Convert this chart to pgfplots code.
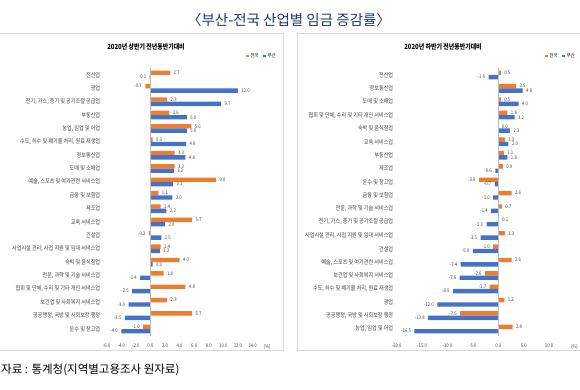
\documentclass[border=0pt]{standalone}
\usepackage{pgfplots}
\pgfplotsset{compat=1.18}
\usepackage{fontspec}
\setmainfont{Noto Sans CJK KR}
\newfontfamily\cond{Noto Sans CJK KR}[FakeStretch=0.85]
\definecolor{nat}{HTML}{ED7D31}
\definecolor{bus}{HTML}{4472C4}
\definecolor{ttl}{HTML}{203864}
\definecolor{txt}{HTML}{404040}
\definecolor{frame}{HTML}{D9D9D9}
\definecolor{zero}{HTML}{BFBFBF}

\pgfplotstableread{
y nat bus
19 2.7 -0.1
18 -0.7 12.0
17 2.3 9.7
16 2.6 5.0
15 5.6 5.0
14 0.3 4.9
13 3.3 4.8
12 3.3 3.2
11 9.0 3.1
10 1.1 3.0
9 1.4 2.2
8 5.7 2.0
7 -0.2 1.5
6 1.4 1.3
5 4.0 0.3
4 1.8 -1.4
3 4.8 -2.5
2 2.3 -3.0
1 5.7 -3.5
0 -1.0 -4.0
}\firsthalf

\pgfplotstableread{
y nat bus
19 0.5 -1.9
18 3.5 4.8
17 0.5 4.0
16 1.8 3.2
15 0.0 2.3
14 1.3 2.0
13 1.1 1.8
12 0.9 -0.6
11 -3.8 -0.7
10 2.6 -1.0
9 0.7 -1.4
8 0.1 -2.3
7 1.3 -3.5
6 -1.0 -5.0
5 2.6 -7.4
4 -2.6 -7.6
3 -1.7 -8.9
2 1.2 -12.0
1 -7.5 -13.8
0 2.8 -16.5
}\secondhalf

\pgfplotsset{
 sqlegend/.style={legend image code/.code={\fill[##1] (0pt,-1.3pt) rectangle (2.6pt,1.3pt);}},
 mybar/.style={
  scale only axis,
  xbar, bar width=4.4pt,
  ymin=-0.5, ymax=19.5,
  height=267.4pt,
  ytick={0,...,19},
  axis line style={draw=none},
  major tick length=0pt,
  xticklabel style={font=\cond\fontsize{5}{6}\selectfont, text=txt, yshift=-5pt},
  yticklabel style={font=\cond\fontsize{6}{7}\selectfont, text=txt},
  nodes near coords,
  nodes near coords style={font=\cond\fontsize{5}{6}\selectfont, text=txt,
     /pgf/number format/.cd, fixed, zerofill, precision=1, assume math mode=true},
  clip=false,
  legend style={draw=none, fill=none, font=\cond\fontsize{5}{6}\selectfont,
     legend columns=2, /tikz/every even column/.append style={column sep=3pt},
     inner sep=0pt},
 },
}

\begin{document}
\begin{tikzpicture}
\path[use as bounding box] (0pt,0pt) rectangle (580pt,390pt);
% panels
\draw[frame, line width=0.8pt] (-2pt,40pt) rectangle (283pt,357pt);
\draw[frame, line width=0.8pt] (297pt,40pt) rectangle (583pt,357pt);
% main title
\node[text=ttl, font=\fontsize{14.5}{16}\selectfont, inner sep=0pt] at (289pt,370pt) {〈부산-전국 산업별 임금 증감률〉};
% footnote
\node[anchor=west, inner sep=0pt, font=\fontsize{11.5}{13}\selectfont] at (1pt,20pt) {자료 : 통계청(지역별고용조사 원자료)};
% subtitles
\node[font=\cond\bfseries\fontsize{7}{8}\selectfont, text=black] at (146pt,343pt) {2020년 상반기 전년동반기대비};
\node[font=\cond\bfseries\fontsize{7}{8}\selectfont, text=black] at (443pt,343pt) {2020년 하반기 전년동반기대비};

\begin{axis}[mybar, at={(106.7pt,54.3pt)}, anchor=south west, width=160.4pt,
  xmin=-6, xmax=16, xtick={-6,-4,...,16},
  xticklabels={-6.0,-4.0,-2.0,0.0,2.0,4.0,6.0,8.0,10.0,12.0,14.0,(\%)},
  yticklabel style={xshift=-3pt},
  yticklabels={{운수 및 창고업},{공공행정, 국방 및 사회보장 행정},{보건업 및 사회복지 서비스업},{협회 및 단체, 수리 및 기타 개인 서비스업},{전문, 과학 및 기술 서비스업},{숙박 및 음식점업},{사업시설 관리, 사업 지원 및 임대 서비스업},{건설업},{교육 서비스업},{제조업},{금융 및 보험업},{예술, 스포츠 및 여가관련 서비스업},{도매 및 소매업},{정보통신업},{수도, 하수 및 폐기물 처리, 원료 재생업},{농업, 임업 및 어업},{부동산업},{전기, 가스, 증기 및 공기조절 공급업},{광업},{전산업}},
  legend style={at={(1.068,1.046)}, anchor=east}]
\addplot[fill=nat, draw=none, bar shift=2.2pt, sqlegend] table[x=nat, y=y] {\firsthalf};
\addplot[fill=bus, draw=none, bar shift=-2.2pt, sqlegend] table[x=bus, y=y] {\firsthalf};
\legend{전국, 부산}
\draw[zero, line width=0.6pt] (axis cs:0,-0.5) -- (axis cs:0,19.5);
\end{axis}

\begin{axis}[mybar, at={(396.7pt,54.3pt)}, anchor=south west, width=177.8pt,
  xmin=-20, xmax=15, xtick={-20,-15,...,15},
  xticklabels={-20.0,-15.0,-10.0,-5.0,0.0,5.0,10.0,(\%)},
  yticklabels={{농업, 임업 및 어업},{공공행정, 국방 및 사회보장 행정},{광업},{수도, 하수 및 폐기물 처리, 원료 재생업},{보건업 및 사회복지 서비스업},{예술, 스포츠 및 여가관련 서비스업},{건설업},{사업시설 관리, 사업 지원 및 임대 서비스업},{전기, 가스, 증기 및 공기조절 공급업},{전문, 과학 및 기술 서비스업},{금융 및 보험업},{운수 및 창고업},{제조업},{부동산업},{교육 서비스업},{숙박 및 음식점업},{협회 및 단체, 수리 및 기타 개인 서비스업},{도매 및 소매업},{정보통신업},{전산업}},
  legend style={at={(1.014,1.046)}, anchor=east}]
\addplot[fill=nat, draw=none, bar shift=2.2pt, sqlegend] table[x=nat, y=y] {\secondhalf};
\addplot[fill=bus, draw=none, bar shift=-2.2pt, sqlegend] table[x=bus, y=y] {\secondhalf};
\legend{전국, 부산}
\draw[zero, line width=0.6pt] (axis cs:0,-0.5) -- (axis cs:0,19.5);
\end{axis}
\end{tikzpicture}
\end{document}
